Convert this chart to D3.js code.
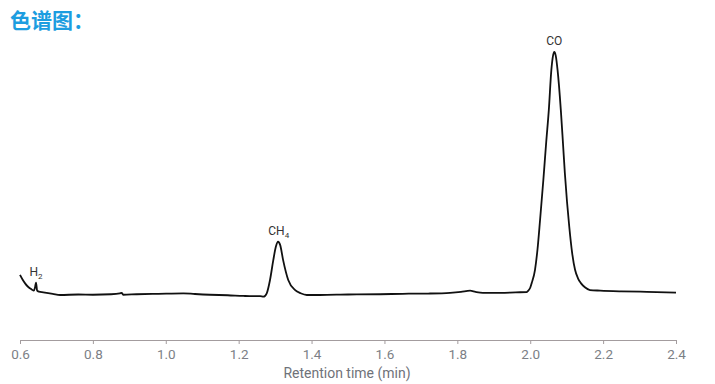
<!doctype html>
<html>
<head>
<meta charset="utf-8">
<script src="https://d3js.org/d3.v7.min.js"></script>
<style>
    body { margin: 0; background: #fff; }
    .xaxis path, .xaxis line { stroke: #a39c9e; }
    .xaxis text { fill: #7c7f86; font-family: Roboto, "Noto Sans", sans-serif; font-size: 13.5px; }
</style>
</head>
<body>
<script>
    // retention time (min) and detector signal (arbitrary units, baseline ~ 0)
    var times = [0.600, 0.607, 0.614, 0.622, 0.632, 0.638, 0.641, 0.644, 0.647, 0.652, 0.664, 0.690, 0.710,
        0.760, 0.800, 0.850, 0.874, 0.879, 0.883, 0.920, 0.980, 1.048, 1.080, 1.121, 1.170, 1.213, 1.240, 1.259,
        1.268, 1.277, 1.286, 1.295, 1.302, 1.308, 1.314, 1.322, 1.336, 1.355, 1.370, 1.387, 1.423, 1.500,
        1.588, 1.650, 1.720, 1.780, 1.810, 1.835, 1.850, 1.870, 1.920, 1.960, 1.990, 1.994, 2.000, 2.004,
        2.013, 2.020, 2.027, 2.036, 2.044, 2.051, 2.058, 2.062, 2.066, 2.070, 2.075, 2.084, 2.090, 2.095,
        2.101, 2.107, 2.115, 2.123, 2.131, 2.139, 2.150, 2.164, 2.192, 2.250, 2.320, 2.400];
    var signal = [7.9, 6.0, 4.4, 3.0, 1.9, 1.4, 2.6, 4.7, 1.4, 1.0, 0.7, 0.1, -0.4,
        -0.2, -0.3, -0.1, 0.3, 0.5, -0.3, -0.1, 0.1, 0.3, 0.0, -0.3, -0.5, -0.8, -0.9, -0.9,
        -1.1, 0.3, 5.8, 14.0, 19.5, 21.6, 20.2, 14.0, 5.8, 1.6, 0.3, -0.4, -0.4, -0.2,
        -0.1, 0.1, 0.2, 0.5, 0.9, 1.4, 0.9, 0.5, 0.5, 0.7, 0.8, 1.3, 2.6, 4.5,
        9.9, 18.5, 30.6, 47.1, 63.0, 76.0, 92.6, 98.0, 100.0, 98.5, 92.6, 76.0, 62.0, 50.0,
        38.0, 28.0, 17.0, 10.0, 6.5, 4.5, 2.8, 1.65, 1.4, 1.1, 0.9, 0.6];

    var xTicks = [0.6, 0.8, 1.0, 1.2, 1.4, 1.6, 1.8, 2.0, 2.2, 2.4];

    var peakNames = ["H", "CH", "CO"];
    var peakSubs = ["2", "4", ""];
    var peakTimes = [0.644, 1.310, 2.066];
    var peakHeights = [4.7, 21.6, 100.0];

    var width = 715, height = 384;

    var svg = d3.select("body")
        .append("svg")
        .attr("width", width)
        .attr("height", height);

    var x = d3.scaleLinear()
        .domain([0.6, 2.4])
        .range([20, 676]);

    var y = d3.scaleLinear()
        .domain([-19, 100])
        .range([340, 52]);

    // title
    svg.append("text")
        .attr("x", 10)
        .attr("y", 28)
        .attr("font-family", "'Noto Sans CJK SC', sans-serif")
        .attr("font-size", "21px")
        .attr("font-weight", "bold")
        .attr("fill", "#1d9de0")
        .text("色谱图：");

    // x axis
    svg.append("g")
        .attr("class", "xaxis")
        .attr("transform", "translate(0,340)")
        .call(d3.axisBottom(x)
            .tickValues(xTicks)
            .tickFormat(d3.format(".1f"))
            .tickSize(4)
            .tickSizeOuter(0)
            .tickPadding(5));

    svg.append("text")
        .attr("x", 347)
        .attr("y", 378)
        .attr("text-anchor", "middle")
        .attr("font-family", "Roboto, 'Noto Sans', sans-serif")
        .attr("font-size", "14px")
        .attr("fill", "#6f7279")
        .text("Retention time (min)");

    // chromatogram trace
    var pts = times.map(function (t, i) { return [t, signal[i]]; });
    var line = d3.line()
        .x(function (d) { return x(d[0]); })
        .y(function (d) { return y(d[1]); })
        .curve(d3.curveMonotoneX);

    svg.append("path")
        .datum(pts)
        .attr("fill", "none")
        .attr("stroke", "#111")
        .attr("stroke-width", 1.8)
        .attr("stroke-linejoin", "round")
        .attr("d", line);

    // peak labels
    peakNames.forEach(function (name, i) {
        var t = svg.append("text")
            .attr("x", x(peakTimes[i]))
            .attr("y", y(peakHeights[i]) - 7)
            .attr("text-anchor", "middle")
            .attr("font-family", "Roboto, 'Noto Sans', sans-serif")
            .attr("font-size", "12px")
            .attr("fill", "#333");
        t.append("tspan").text(name);
        if (peakSubs[i]) {
            t.append("tspan")
                .attr("font-size", "8px")
                .attr("dy", 3)
                .text(peakSubs[i]);
        }
    });
</script>
</body>
</html>
